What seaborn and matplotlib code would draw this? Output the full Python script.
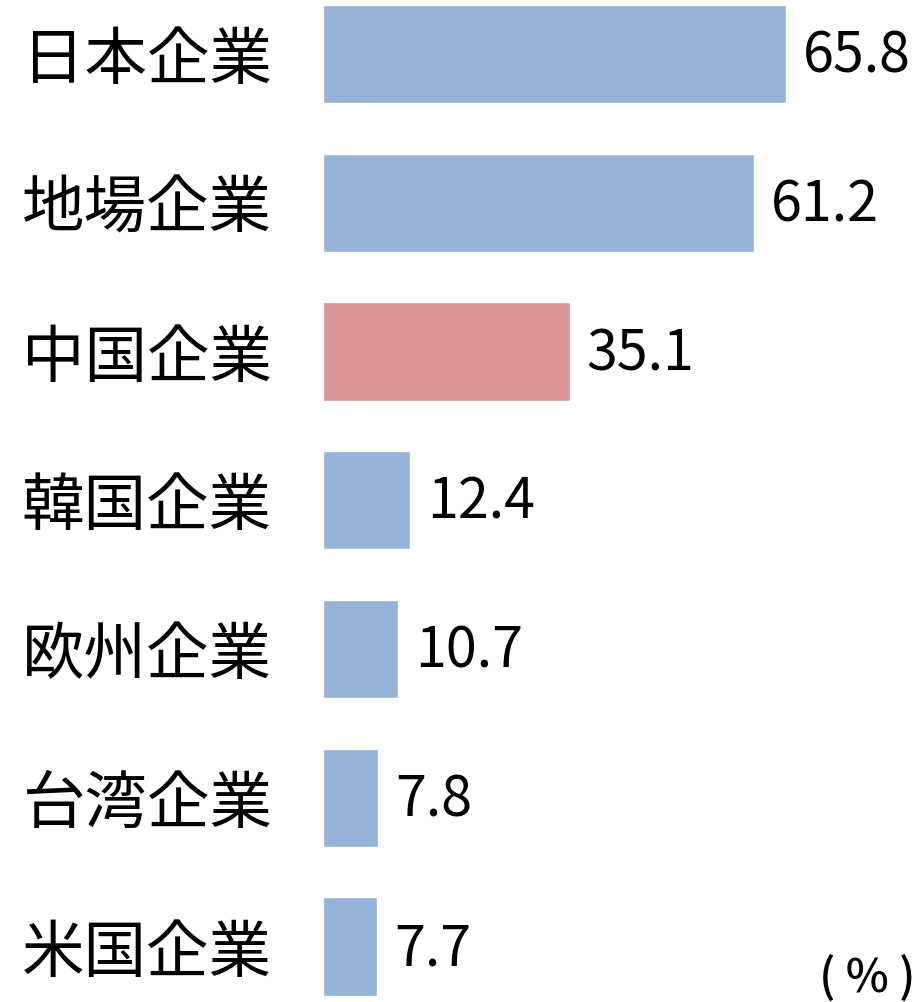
import pandas as pd
import seaborn as sns
import matplotlib.pyplot as plt

# 企業別の値 (%)
companies = ["日本企業", "地場企業", "中国企業", "韓国企業", "欧州企業", "台湾企業", "米国企業"]
values = [65.8, 61.2, 35.1, 12.4, 10.7, 7.8, 7.7]
colors = ["#95B3D7", "#95B3D7", "#D99694", "#95B3D7", "#95B3D7", "#95B3D7", "#95B3D7"]

df = pd.DataFrame({"company": companies, "value": values})

sns.set_style("white")
plt.rcParams['font.family'] = ['Noto Sans CJK JP', 'DejaVu Sans']

fig = plt.figure(figsize=(9.16, 10.02), dpi=100)
ax = fig.add_axes([323 / 916, 0, 593 / 916, 1])

sns.barplot(data=df, x="value", y="company", hue="company", palette=colors,
            width=0.66, legend=False, ax=ax, saturation=1)

ax.set_xlim(0, 84.3)
ax.set_ylim(6.373, -0.363)
ax.set_xlabel("")
ax.set_ylabel("")
ax.set_xticks([])
sns.despine(ax=ax, left=True, bottom=True)
ax.tick_params(axis="y", length=0, pad=37, labelsize=45, labelcolor="black")

for i, v in enumerate(values):
    ax.text(v + 2.4, i + 0.02, f"{v:.1f}", va="center", ha="left", fontsize=40,
            color="black")

fig.text(0.999, 0.0, "( % )", ha="right", va="bottom", fontsize=33,
         fontweight="medium", color="black")

fig.savefig("out.png", dpi=100)
